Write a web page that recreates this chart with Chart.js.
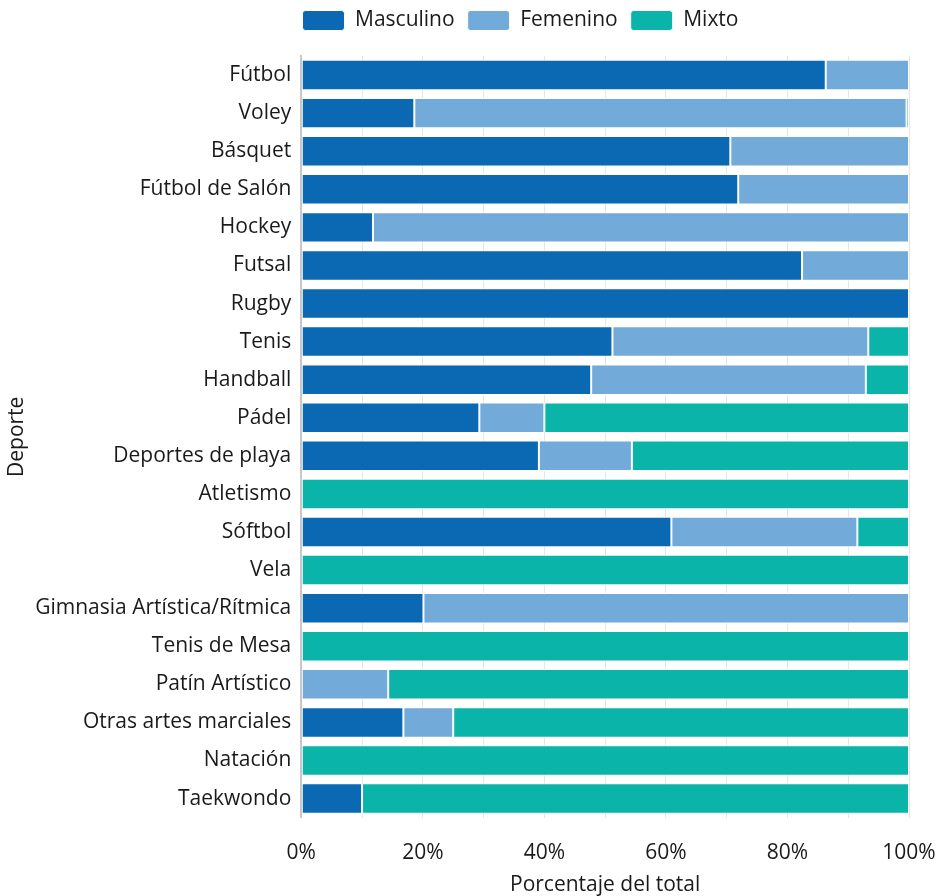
<!DOCTYPE html>
<html>
<head>
<meta charset="utf-8">
<script src="https://cdn.jsdelivr.net/npm/chart.js@4"></script>
<style>
  html, body { margin: 0; padding: 0; background: #fff; }
  #wrap { width: 938px; height: 896px; }
</style>
</head>
<body>
<div id="wrap"><canvas id="chart"></canvas></div>
<script>
const deportes = ['Fútbol', 'Voley', 'Básquet', 'Fútbol de Salón', 'Hockey', 'Futsal', 'Rugby',
    'Tenis', 'Handball', 'Pádel', 'Deportes de playa', 'Atletismo', 'Sóftbol', 'Vela',
    'Gimnasia Artística/Rítmica', 'Tenis de Mesa', 'Patín Artístico', 'Otras artes marciales',
    'Natación', 'Taekwondo'];
const masculino = [86.3, 18.6, 70.6, 71.9, 11.8, 82.4, 100, 51.2, 47.7, 29.3, 39.1, 0, 60.9, 0, 20.1, 0, 0, 16.8, 0, 10.0];
const femenino = [13.7, 81.0, 29.4, 28.1, 88.2, 17.6, 0, 42.1, 45.2, 10.7, 15.3, 0, 30.6, 0, 79.9, 0, 14.3, 8.2, 0, 0];
const mixto = [0, 0.4, 0, 0, 0, 0, 0, 6.7, 7.1, 60.0, 45.6, 100, 8.5, 100, 0, 100, 85.7, 75.0, 100, 90.0];

Chart.defaults.font.family = '"Open Sans", "Noto Sans", sans-serif';
Chart.defaults.font.size = 21;
Chart.defaults.color = '#1a1a1a';

function serie(label, data, color) {
    return {
        label: label,
        data: data,
        backgroundColor: color,
        borderColor: '#ffffff',
        borderWidth: 1,
        borderSkipped: false,
        categoryPercentage: 0.8,
        barPercentage: 1
    };
}

// more room under the legend, and legend moved a bit right like the original
const legendTweak = {
    id: 'legendTweak',
    beforeInit(chart) {
        const fit = chart.legend.fit;
        chart.legend.fit = function() {
            fit.call(this);
            this.height += 12;
        };
    },
    afterLayout(chart) {
        chart.legend.left += 66;
        chart.legend.right += 66;
        chart.legend.top -= 3;
    }
};

new Chart(document.getElementById('chart').getContext('2d'), {
    type: 'bar',
    data: {
        labels: deportes,
        datasets: [
            serie('Masculino', masculino, '#0b69b3'),
            serie('Femenino', femenino, '#72aad9'),
            serie('Mixto', mixto, '#0ab4a8')
        ]
    },
    options: {
        indexAxis: 'y',
        responsive: true,
        maintainAspectRatio: false,
        animation: false,
        layout: { padding: { left: 0, right: 29, top: 0, bottom: 0 } },
        plugins: {
            legend: {
                position: 'top',
                labels: { boxWidth: 42, boxHeight: 20, padding: 13, useBorderRadius: true, borderRadius: 3 }
            },
            tooltip: { enabled: false }
        },
        scales: {
            x: {
                stacked: true,
                min: 0,
                max: 100,
                grid: { color: '#e6e6e6', drawTicks: false },
                border: { display: false },
                ticks: {
                    stepSize: 10,
                    padding: 23,
                    callback: v => v % 20 === 0 ? v + '%' : ''
                },
                afterFit: s => { s.paddingLeft = 0; s.paddingRight = 0; },
                title: { display: true, text: 'Porcentaje del total', padding: { top: -16, bottom: -2 } }
            },
            y: {
                stacked: true,
                grid: { display: false },
                border: { color: '#c8c8c8', width: 2 },
                ticks: { padding: 2 },
                title: { display: true, text: 'Deporte', padding: { bottom: 4 } }
            }
        }
    },
    plugins: [legendTweak]
});
</script>
</body>
</html>
